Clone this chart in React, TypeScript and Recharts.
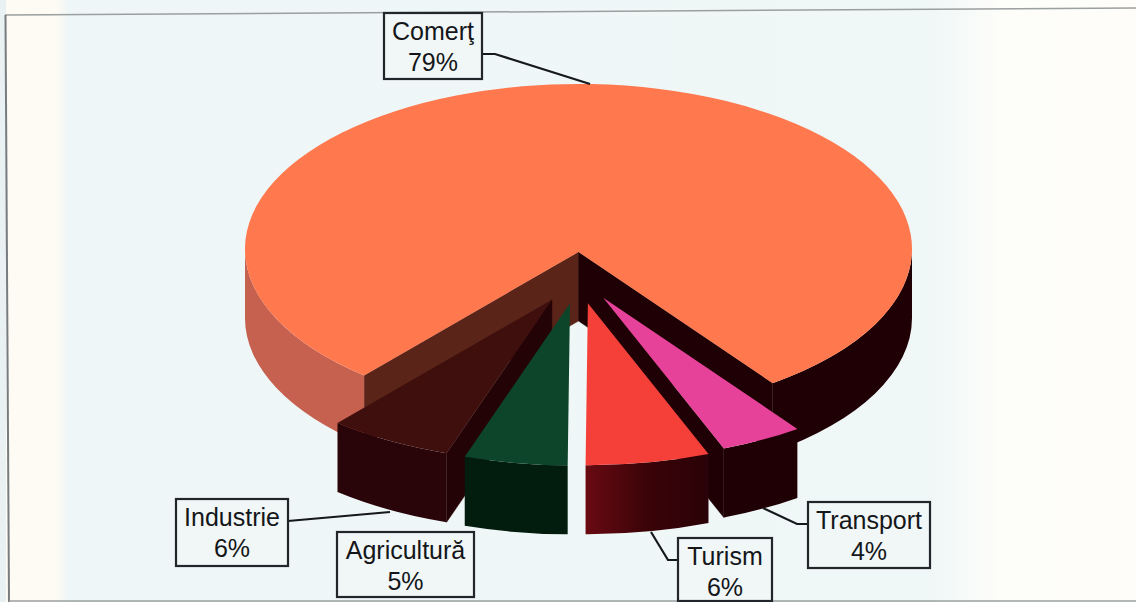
import { PieChart, Pie } from 'recharts'

const names = ['Comerţ', 'Transport', 'Turism', 'Agricultură', 'Industrie']
const shares = [79, 4, 6, 5, 6]
const data = names.map((name, i) => ({ name, value: shares[i] }))

// view of the tilted pie
const RX = 333.5
const RY = 165
const DEPTH = 69
const EXPLODE = 52
const APEX_DROP = 3

const sliceStyles: Record<string, any> = {
  'Comerţ': { top: '#ff784e', rimLeft: '#c6604f', rimRight: '#1f0005', cutLeft: '#5a2419', cutRight: '#1e0005', explode: 0 },
  Transport: { top: '#e6429a', rimLeft: '#1f0005', rimRight: '#1f0005', cutRight: '#1e0005', explode: 1 },
  Turism: { top: '#f5403a', rimLeft: 'url(#turismWall)', rimRight: 'url(#turismWall)', explode: 1 },
  'Agricultură': { top: '#0c4529', rimLeft: '#021c0e', rimRight: '#021c0e', explode: 1 },
  Industrie: { top: '#3f0f0d', rimLeft: '#290408', rimRight: '#290408', cutLeft: '#240306', explode: 1.05 },
}

const labelBoxes: Record<string, any> = {
  'Comerţ': { x: 384, y: 13, w: 98, h: 66, leader: '482,54 495,54 590,84' },
  Transport: { x: 808, y: 502, w: 122, h: 66, leader: '808,524 797,524 763,508' },
  Turism: { x: 678, y: 538, w: 94, h: 63, leader: '678,560 668,560 651,532' },
  'Agricultură': { x: 337, y: 532, w: 137, h: 65 },
  Industrie: { x: 176, y: 499, w: 112, h: 67, leader: '288,521 390,512' },
}

const rad = (deg: number) => (deg * Math.PI) / 180

function sliceGeometry(props: any) {
  const { cx, cy, startAngle, endAngle, midAngle, outerRadius, payload, name } = props
  const key = name ?? payload?.name
  const style = sliceStyles[key]
  const rx = outerRadius
  const ry = outerRadius * (RY / RX)
  const off = style.explode * EXPLODE
  const ox = cx + off * Math.cos(rad(midAngle))
  const oy = cy - off * Math.sin(rad(midAngle))
  const rim = (a: number, drop = 0) => [ox + rx * Math.cos(rad(a)), oy - ry * Math.sin(rad(a)) + drop]
  const apex = [ox, oy + APEX_DROP]
  return { style, rx, ry, rim, apex, hi: Math.max(startAngle, endAngle), lo: Math.min(startAngle, endAngle) }
}

// side cut faces, drawn first so the neighbouring tops can lie over them
function CutFaces(props: any) {
  const { style, rim, apex, hi, lo } = sliceGeometry(props)
  const face = (a: number, fill: string) => {
    const p = rim(a)
    const d = `M${apex[0]},${apex[1]} L${p[0]},${p[1]} L${p[0]},${p[1] + DEPTH} L${apex[0]},${apex[1] + DEPTH} Z`
    return <path d={d} fill={fill} stroke={fill} strokeWidth={0.5} />
  }
  return (
    <g>
      {style.cutLeft && face(hi, style.cutLeft)}
      {style.cutRight && face(lo, style.cutRight)}
    </g>
  )
}

function TopAndRim(props: any) {
  const { style, rx, ry, rim, apex, hi, lo } = sliceGeometry(props)
  const walls: any[] = []
  // the rim only shows on the front half of the ellipse
  for (const k of [-1, 0, 1]) {
    const from = Math.min(hi, 360 * k)
    const to = Math.max(lo, 360 * k - 180)
    if (from <= to) continue
    const a = rim(from)
    const b = rim(to)
    const large = from - to > 180 ? 1 : 0
    const d = `M${a[0]},${a[1]} A${rx},${ry} 0 ${large} 1 ${b[0]},${b[1]} L${b[0]},${b[1] + DEPTH} A${rx},${ry} 0 ${large} 0 ${a[0]},${a[1] + DEPTH} Z`
    const mid = (from + to) / 2
    walls.push(<path key={k} d={d} fill={Math.cos(rad(mid)) < 0 ? style.rimLeft : style.rimRight} />)
  }
  const s = rim(hi)
  const e = rim(lo)
  const large = hi - lo > 180 ? 1 : 0
  const top = `M${apex[0]},${apex[1]} L${s[0]},${s[1]} A${rx},${ry} 0 ${large} 1 ${e[0]},${e[1]} Z`
  return (
    <g>
      <defs>
        <linearGradient id="turismWall" x1="0" y1="0" x2="1" y2="0">
          <stop offset="0%" stopColor="#6a0a12" />
          <stop offset="50%" stopColor="#3a0308" />
          <stop offset="100%" stopColor="#2a0207" />
        </linearGradient>
      </defs>
      {walls}
      <path d={top} fill={style.top} />
    </g>
  )
}

function SliceLabel(props: any) {
  const { name, value } = props
  const box = labelBoxes[name]
  const mid = box.x + box.w / 2
  return (
    <g>
      {box.leader && <polyline points={box.leader} fill="none" stroke="#15181c" strokeWidth={2.2} />}
      <rect x={box.x} y={box.y} width={box.w} height={box.h} fill="#f1f7f6" stroke="#22262a" strokeWidth={2.2} />
      <text x={mid} y={box.y + 27} textAnchor="middle" fontFamily="Liberation Sans" fontSize={25} fill="#14161a">
        {name}
      </text>
      <text x={mid} y={box.y + 58} textAnchor="middle" fontFamily="Liberation Sans" fontSize={25} fill="#14161a">
        {value}%
      </text>
    </g>
  )
}

export default function App() {
  return (
    <div style={{ position: 'absolute', left: 0, top: 0, width: 1136, height: 602, overflow: 'hidden' }}>
      <svg width={1136} height={602} style={{ position: 'absolute', left: 0, top: 0 }}>
        <defs>
          <linearGradient id="paper" x1="0" y1="0" x2="1136" y2="0" gradientUnits="userSpaceOnUse">
            <stop offset="0" stopColor="#fdfbf3" />
            <stop offset="0.05" stopColor="#fdfbf3" />
            <stop offset="0.06" stopColor="#eff6f7" />
            <stop offset="0.82" stopColor="#f0f7f7" />
            <stop offset="0.88" stopColor="#fdfdfa" />
            <stop offset="1" stopColor="#fefdf9" />
          </linearGradient>
        </defs>
        <rect width={1136} height={602} fill="url(#paper)" />
        <rect width={6} height={602} fill="#e9f1f2" />
        <line x1={5} y1={15} x2={1136} y2={8} stroke="#9a9f9f" strokeWidth={1.5} />
        <line x1={5.5} y1={15} x2={9} y2={602} stroke="#777c80" strokeWidth={2} />
        <line x1={9} y1={601} x2={1136} y2={601} stroke="#9a9f9f" strokeWidth={1.5} />
      </svg>
      <div style={{ position: 'absolute', left: 0, top: 0 }}>
        <PieChart width={1136} height={602} margin={{ top: 0, right: 0, bottom: 0, left: 0 }}>
          <Pie
            data={data}
            dataKey="value"
            nameKey="name"
            cx={578.5}
            cy={249}
            innerRadius={0}
            outerRadius={RX}
            startAngle={230}
            endAngle={-130}
            stroke="none"
            shape={CutFaces}
            isAnimationActive={false}
          />
          <Pie
            data={data}
            dataKey="value"
            nameKey="name"
            cx={578.5}
            cy={249}
            innerRadius={0}
            outerRadius={RX}
            startAngle={230}
            endAngle={-130}
            stroke="none"
            shape={TopAndRim}
            label={SliceLabel}
            labelLine={false}
            isAnimationActive={false}
          />
        </PieChart>
      </div>
    </div>
  )
}
